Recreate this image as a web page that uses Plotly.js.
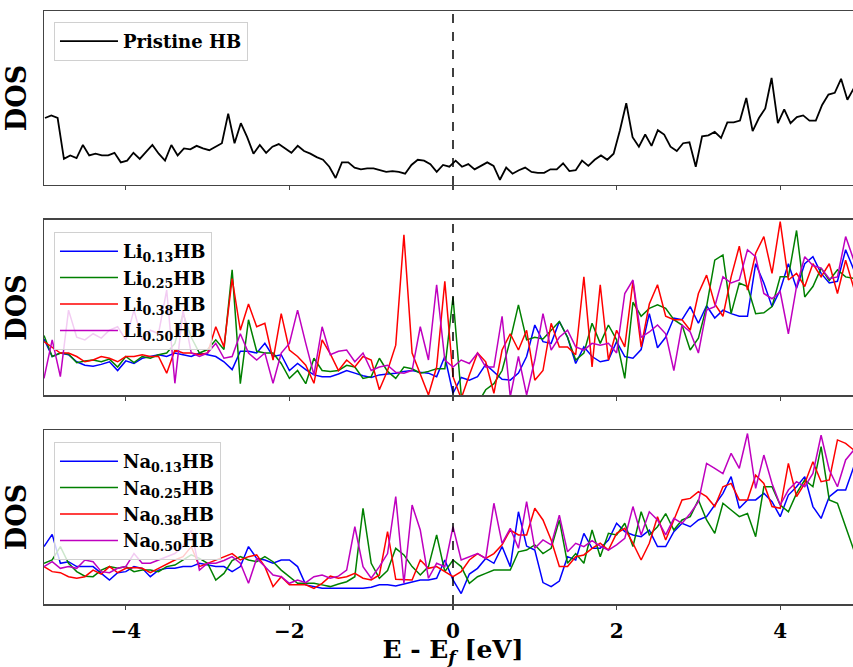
<!DOCTYPE html>
<html><head><meta charset="utf-8">
<script src="https://cdn.plot.ly/plotly-3.0.1.min.js"></script>
<style>html,body{margin:0;padding:0;overflow:hidden;background:#fff}#chart{width:870px;height:667px}</style>
</head><body><div id="chart"></div>
<script>
// Energy grids (eV relative to Fermi level)
const pristineStart = -4.988, pristineStep = 0.07724;
const dopedStart = -5.0, dopedStep = 0.1;

// Panel 1: pristine HB DOS (arbitrary units)
const pristineHB = [
38.5,40,38.5,15,17,15.5,23,17,18,17,
17,18.5,13,14,18.5,15,19,23,18,14,
23,17,21,20.5,22.5,21,20,22,24,41,
24,35.5,27.5,18,23,18.5,22,23.5,21,18.5,
22.5,19.5,18,16,14.5,10.5,4,13,13,10,
9,9.5,9.5,8.5,7.5,8,7.5,6.5,11.5,14.5,
14,12,7.5,11.5,10.5,14,10.5,12,9,11,
13,11,3,10,6.5,8.5,10,7.5,7,7,
9,9,12.5,8,8.5,14,11,14.5,17,14.5,
18,31.5,47,27.5,22,29,22.5,31.5,29,22,
19.5,24,24.5,10.5,28,28.5,30.5,27,36,36,
37,50,31,38.5,44,61.5,35.5,43.5,35.5,39,
40,37,37,46,52,53,61,49,55.5,60];

// Panel 2: Li-doped
const li013 = [
32,22,24,23,19,17,16.5,17.5,19,14,
19.5,18,21,22,23,22,24,23,22,24,
23,22,19,14.5,25,25,24,29.5,22,23,
14,18,14.5,11.5,10.5,10.5,12,14,12.5,11,
10,11.5,12,12.5,13.5,14,13,12.5,10.5,22,
1,10,8.5,10.5,17.5,13.5,9,8.5,12.5,22,
40,30.5,29.5,42,33,18,27.5,22,19,20,
30.5,22,21,26,46.5,27,33,44,43,50.5,
41,51,44,48.5,46.5,45,45,75,64,50.5,
60,75,61,75,79,69.5,64,65,83,71.5,
73];
const li025 = [
34,22,24,23.5,18.5,19.5,20,19,20.5,16,
22,18.5,22,21,23,24,29.5,46.5,33,24,
26,31.5,26,71.5,6.5,43,25,24,24,18,
9.5,14,6.5,21,14,13.5,14,17,16,9.5,
10.5,21,13.5,9.5,16,15,12.5,13.5,15,15,
56,0,-6.7,-5,3,6.5,14,31.5,51.5,31.5,
33,32,37,42,33,20,24,41,29.5,40,
31.5,9.5,53,45,49.5,51.5,49.5,43,40,25.7,
32.5,50.5,77,80,46.5,64,62,46.5,47,50.5,
67.5,67.5,94,56,62,72.5,65.5,71.5,67.5,66.5,
65.7];
const li038 = [
30.5,27.5,24,24,22,19,20,22,21,19,
22,22,23,22,22,12.5,25.7,24,24,23,
24,39,27.5,66.5,37,52,39,41,20,46.5,
25.7,22,17,6.7,31.5,23.5,14,20,16,22,
20,3,14,28.5,91.5,24,12.5,0,16,65,
10.5,-2,11.5,24,19,1,25.7,35,25.7,37,
8.5,14,41,27.5,27.5,23,67.5,16,63,20,
37,27.5,65,27.5,52,63,45,43,43,37,
58,68.5,52,45,67.5,85,60,81,90.5,69.5,
99,65.7,69.5,62,75,67.5,75,58,77,61,
64];
const li050 = [
9.5,31.5,10.5,48.5,33,31.5,35,32.5,37,39,
31.5,48.5,31.5,37,35,60,6.7,48.5,24,22,
24,29.5,21,22,35,24,20,24,6.7,24,
29.5,48.5,29.5,11.5,39,23,25,25.7,19,24,
14,16,17,13,12.5,14,39,20,63,20,
16,20,18,24,16,16,45,-1,22,0,
20,46.5,25.7,33,37,27.5,25.7,29.5,28.5,29.5,
24,58,65.7,33,36,40,35,14,40,36,
24,48.5,50.5,67.5,64,65.7,83,79,58,55,
59,35,62,79,74,72.5,66.5,67.5,90.5,77,
73];

// Panel 3: Na-doped
const na013 = [
33,40,23.4,24.3,21.5,21.5,21.5,17.6,13.8,18,
18.6,21.5,20.5,15.7,19.5,20.5,20.5,21.5,21.5,23.4,
22.4,21.5,21.5,18.6,21.5,33,26.2,25.3,23.4,25.3,
25.3,21.5,11,10,9,9,9,9,9,9,
9.6,11,11,10.3,11.5,12.5,13.8,13.8,14.8,25.3,
13.8,6,17.2,20.5,26.2,23.4,33,21.5,53,33.3,
31,12.3,10,13.2,27.2,25.3,40.6,32,32,36.8,
46.4,41.6,39.7,38.7,42.5,33,33,41.6,46.4,44.4,
48.3,50.2,56.9,63.6,73.2,55,59.8,59.8,63.6,58.8,
50.2,62.6,67.4,73.2,56,49.2,61.7,65.5,65.5,79,
80.8];
const na025 = [
23.4,25.3,33,23.4,18.6,16,15.7,19.5,21.5,20.5,
21.5,18.6,19.5,19.5,18.6,21.5,22.4,25.3,28.2,26.2,
23.4,13.8,17.6,25,27.2,25.3,24.3,27.2,24.3,19.5,
15.7,11.9,11.9,11.9,11,10,11.5,12.8,15.7,55,
23.4,14.8,19.2,32,28.2,21.5,16.7,21.5,39.7,18.6,
25.3,21.5,11.9,15.7,17.6,19.5,19.5,19.5,30,31,
34,29,32,48.3,23.4,29,23.4,42.5,27.2,40.6,
39.7,46.4,33,53,39.7,44.4,52,42.5,48.3,50.2,
59.8,48.3,40.6,57.9,54,50.2,52,38.7,67.4,67.4,
56.9,53,63.6,71.3,67.4,90.4,59.8,57.9,44.4,31,
31];
const na038 = [
21.5,18.6,18,15.7,14.8,15.7,19.5,17.2,21.5,18,
20.5,21,20.5,18,20.5,23,25.3,27.2,33,21.5,
23.4,25.3,27.2,29,25.3,27.2,28.2,21.5,10,15.7,
11,11,11,9,11.9,16,14.8,15.7,17.6,14.8,
13.8,16.7,41.6,14.2,13.8,13.8,25.3,20.5,21.5,18.6,
15.7,18.6,25.3,29,26.2,29,34,42.5,39.7,39.7,
55,48.3,36.8,21.5,21.5,27.2,28.2,32,34.9,31,
40.6,43.5,34.9,25.3,34.9,50.2,36.8,48.3,59.8,60.7,
64.6,61.7,56,67.4,69.3,59.8,59.8,74,69.3,56,
55,80.8,61.7,69.3,81.8,70.3,71.3,94.3,92.3,88.5,
90.4];
const na050 = [
21.5,24.3,20.5,21.5,20.5,25.3,24.3,18.6,18,20.5,
21.5,29,23.4,23.4,25.3,27.2,29,33,42.5,19.5,
23.4,23.4,25,27.2,23.4,11.9,26.2,21.5,16.7,15.7,
11.9,13.8,12.3,15.7,16.7,14.8,16,19.5,44.4,21.5,
14.8,21.5,29,61.7,11.9,56.9,42.5,14.8,23.4,21.5,
44.4,25.3,27.2,29,26.2,57.9,34.9,43.5,32,58.8,
32,36.8,34,51.1,30,34.9,33,36.4,33.3,31,
34,37.7,56,39.7,53,48.3,39.7,49.2,46.4,52,
58.8,80.8,78,75,86.6,78,98,66.5,85.6,69.3,
56.9,65.5,70.3,67.4,75,97,77,67.4,82.8,88.5,
86.6];

const liNames = ['Li<sub>0.13</sub>HB','Li<sub>0.25</sub>HB','Li<sub>0.38</sub>HB','Li<sub>0.50</sub>HB'];
const naNames = ['Na<sub>0.13</sub>HB','Na<sub>0.25</sub>HB','Na<sub>0.38</sub>HB','Na<sub>0.50</sub>HB'];
const colors = ['#0000ff','#008000','#ff0000','#bf00bf'];
const xTicks = [-4,-2,0,2,4];

function grid(start, step, n){ const a=[]; for(let i=0;i<n;i++) a.push(+(start+i*step).toFixed(4)); return a; }
const Ep = grid(pristineStart, pristineStep, pristineHB.length);
const Ed = grid(dopedStart, dopedStep, li013.length);

const data = [];
data.push({x:Ep, y:pristineHB, type:'scatter', mode:'lines', name:'Pristine HB',
  line:{color:'#000', width:1.8}, xaxis:'x', yaxis:'y', legend:'legend'});
[li013, li025, li038, li050].forEach((s,k)=>data.push({x:Ed, y:s, type:'scatter', mode:'lines',
  name:liNames[k], line:{color:colors[k], width:1.5}, xaxis:'x2', yaxis:'y2', legend:'legend2'}));
[na013, na025, na038, na050].forEach((s,k)=>data.push({x:Ed, y:s, type:'scatter', mode:'lines',
  name:naNames[k], line:{color:colors[k], width:1.5}, xaxis:'x3', yaxis:'y3', legend:'legend3'}));

const serif = '"DejaVu Serif", "Liberation Serif", serif';
const frame = '#444';
function xAxis(anchor, labels){
  const a = {anchor:anchor, range:[-5,5], showline:true, mirror:true, linecolor:frame, linewidth:1.5,
    ticks:'outside', ticklen:4, tickwidth:1.2, tickcolor:frame, tickvals:xTicks, showgrid:false, zeroline:false,
    showticklabels:labels, ticklabelstandoff:4, tickfont:{family:serif, size:20, weight:'bold', color:'#000'}};
  if(labels) a.title = {text:'E - E<sub><i>f</i></sub> [eV]', font:{family:serif, size:25, weight:'bold', color:'#000'}, standoff:1};
  return a;
}
function yAxis(anchor, domain){
  return {anchor:anchor, domain:domain, range:[0,100], showline:true, mirror:true, linecolor:frame, linewidth:1.5,
    ticks:'', showticklabels:false, showgrid:false, zeroline:false,
    title:{text:'DOS', font:{family:serif, size:27, weight:'bold', color:'#000'}, standoff:8}};
}
function legend(y){
  return {x:0.0122, y:y, xanchor:'left', yanchor:'top', bgcolor:'rgba(255,255,255,0.8)', bordercolor:'#d0d0d0',
    borderwidth:1, itemwidth:58, font:{family:serif, size:18, weight:'bold', color:'#000'}, tracegroupgap:0};
}
const shapes = ['', '2', '3'].map(k=>({type:'line', xref:'x'+k, yref:'y'+k+' domain', x0:0, x1:0, y0:0, y1:1,
  line:{color:'#000', width:1.5, dash:'dash'}}));

const layout = {
  width:870, height:667, margin:{l:44, r:8, t:11, b:63},
  paper_bgcolor:'#fff', plot_bgcolor:'#fff', showlegend:true,
  font:{family:serif, color:'#000'},
  xaxis:xAxis('y', false), xaxis2:xAxis('y2', false), xaxis3:xAxis('y3', true),
  yaxis:yAxis('x', [0.7066,1]), yaxis2:yAxis('x2', [0.3524,0.6476]), yaxis3:yAxis('x3', [0,0.2934]),
  legend:legend(0.9815), legend2:legend(0.6273), legend3:legend(0.2732),
  shapes:shapes
};
Plotly.newPlot('chart', data, layout, {displayModeBar:false, staticPlot:true});
</script></body></html>
